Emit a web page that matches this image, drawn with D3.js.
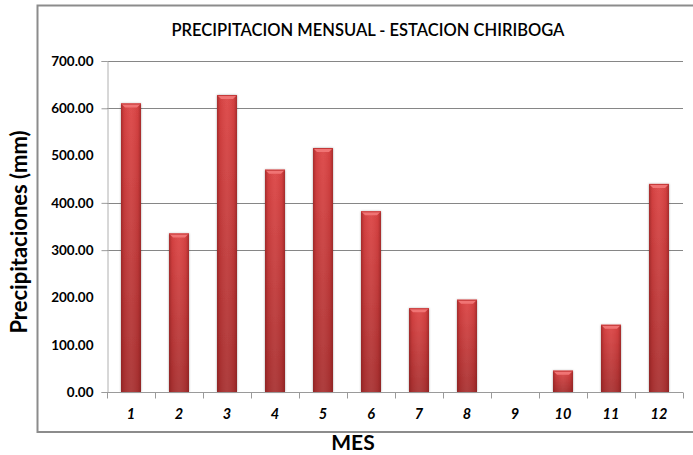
<!DOCTYPE html>
<html>
<head>
<meta charset="utf-8">
<script src="https://cdn.jsdelivr.net/npm/d3@7"></script>
<style>
  html, body { margin: 0; padding: 0; background: #fff; }
  svg { display: block; font-family: Lato, "Open Sans", sans-serif; }
</style>
</head>
<body>
<div id="chart"></div>
<script>
// Monthly precipitation, Chiriboga station
const months = ["1", "2", "3", "4", "5", "6", "7", "8", "9", "10", "11", "12"];
const precipitation = [610, 335, 628, 470, 516, 382, 177, 195, 0, 45, 142, 440];
const yTicks = [0, 100, 200, 300, 400, 500, 600, 700];
const gridValues = [300, 400, 600, 700];
const chartTitle = "PRECIPITACION MENSUAL - ESTACION CHIRIBOGA";
const yTitle = "Precipitaciones (mm)";
const xTitle = "MES";

const W = 693, H = 455;
const plot = { left: 107, right: 683, top: 61, bottom: 392 };

const svg = d3.select("#chart").append("svg")
  .attr("width", W).attr("height", H);

const defs = svg.append("defs");

// vertical body shading of each bar
const gBody = defs.append("linearGradient").attr("id", "barBody")
  .attr("x1", 0).attr("y1", 0).attr("x2", 0).attr("y2", 1);
gBody.append("stop").attr("offset", "0%").attr("stop-color", "#dc4444");
gBody.append("stop").attr("offset", "100%").attr("stop-color", "#a83030");

// darkened side edges for a rounded look
const gSide = defs.append("linearGradient").attr("id", "barSide")
  .attr("x1", 0).attr("y1", 0).attr("x2", 1).attr("y2", 0);
gSide.append("stop").attr("offset", "0%").attr("stop-color", "#7a1a1a").attr("stop-opacity", 0.55);
gSide.append("stop").attr("offset", "15%").attr("stop-color", "#7a1a1a").attr("stop-opacity", 0.1);
gSide.append("stop").attr("offset", "50%").attr("stop-color", "#ffffff").attr("stop-opacity", 0.06);
gSide.append("stop").attr("offset", "85%").attr("stop-color", "#7a1a1a").attr("stop-opacity", 0.1);
gSide.append("stop").attr("offset", "100%").attr("stop-color", "#7a1a1a").attr("stop-opacity", 0.55);

const shadow = defs.append("filter").attr("id", "barShadow")
  .attr("x", "-30%").attr("y", "-10%").attr("width", "160%").attr("height", "120%");
shadow.append("feGaussianBlur").attr("in", "SourceAlpha").attr("stdDeviation", 1.2).attr("result", "b");
shadow.append("feFlood").attr("flood-color", "#000").attr("flood-opacity", 0.35).attr("result", "c");
shadow.append("feComposite").attr("in", "c").attr("in2", "b").attr("operator", "in").attr("result", "s");
const merge = shadow.append("feMerge");
merge.append("feMergeNode").attr("in", "s");
merge.append("feMergeNode").attr("in", "SourceGraphic");

// outer chart frame (left, top, bottom edges)
svg.append("path")
  .attr("d", `M${W},5.5 H37.5 V432 H${W}`)
  .attr("fill", "none").attr("stroke", "#8c8c8c").attr("stroke-width", 2);

const x = d3.scaleBand().domain(months).range([plot.left, plot.right]).paddingInner(0).paddingOuter(0);
const y = d3.scaleLinear().domain([0, 700]).range([plot.bottom, plot.top]);

// horizontal gridlines
svg.append("g").selectAll("line").data(gridValues).join("line")
  .attr("x1", plot.left).attr("x2", plot.right)
  .attr("y1", d => Math.round(y(d)) + 0.5).attr("y2", d => Math.round(y(d)) + 0.5)
  .attr("stroke", "#868686").attr("stroke-width", 1);

// y axis
const yAxis = svg.append("g").attr("transform", `translate(${plot.left + 0.5},0)`)
  .call(d3.axisLeft(y).tickValues(yTicks).tickSize(6).tickPadding(8).tickFormat(d3.format(".2f")));
yAxis.select(".domain").attr("stroke", "#b0b0b0");
yAxis.selectAll(".tick line").attr("stroke", "#9a9a9a")
  .attr("display", d => (gridValues.includes(d) || d === 0) ? null : "none");
yAxis.selectAll(".tick text")
  .attr("font-family", "Lato, sans-serif").attr("font-size", 13.5).attr("font-weight", "bold").attr("fill", "#000");

// bars
const barW = 20;
const bars = svg.append("g").selectAll("g").data(months.map((m, i) => ({ m, v: precipitation[i] })))
  .join("g").filter(d => d.v > 0);
bars.append("rect")
  .attr("x", d => x(d.m) + x.bandwidth() / 2 - barW / 2)
  .attr("y", d => y(d.v)).attr("width", barW).attr("height", d => y(0) - y(d.v))
  .attr("fill", "url(#barBody)").attr("filter", "url(#barShadow)");
bars.append("rect")
  .attr("x", d => x(d.m) + x.bandwidth() / 2 - barW / 2)
  .attr("y", d => y(d.v)).attr("width", barW).attr("height", d => y(0) - y(d.v))
  .attr("fill", "url(#barSide)");
// bevelled top cap
bars.append("path")
  .attr("d", d => {
    const cx = x(d.m) + x.bandwidth() / 2, t = y(d.v);
    return `M${cx - barW / 2},${t} H${cx + barW / 2} L${cx + barW / 2 - 4},${t + 4} H${cx - barW / 2 + 4} Z`;
  })
  .attr("fill", "#f07474");
bars.append("line")
  .attr("x1", d => x(d.m) + x.bandwidth() / 2 - barW / 2).attr("x2", d => x(d.m) + x.bandwidth() / 2 + barW / 2)
  .attr("y1", d => y(d.v) + 0.5).attr("y2", d => y(d.v) + 0.5)
  .attr("stroke", "#c43838").attr("stroke-width", 1);

// x axis with ticks at category boundaries
const xg = svg.append("g").attr("transform", `translate(0,${plot.bottom + 0.5})`);
xg.append("line").attr("x1", plot.left).attr("x2", plot.right)
  .attr("stroke", "#9a9a9a");
xg.selectAll("line.b").data(d3.range(months.length + 1)).join("line").attr("class", "b")
  .attr("x1", i => Math.round(plot.left + i * x.bandwidth()) + 0.5)
  .attr("x2", i => Math.round(plot.left + i * x.bandwidth()) + 0.5)
  .attr("y1", 0).attr("y2", 6).attr("stroke", "#9a9a9a");
xg.selectAll("text").data(months).join("text")
  .attr("x", d => x(d) + x.bandwidth() / 2).attr("y", 26)
  .attr("text-anchor", "middle")
  .attr("font-size", 14.5).attr("font-weight", "bold").attr("font-style", "italic").attr("fill", "#000")
  .text(d => d);

// titles
svg.append("text").attr("x", 368).attr("y", 36).attr("text-anchor", "middle")
  .attr("font-size", 16.5).attr("font-weight", "600").attr("fill", "#000").text(chartTitle);
svg.append("text").attr("transform", "translate(27,232) rotate(-90)").attr("text-anchor", "middle")
  .attr("font-size", 22).attr("font-weight", "bold").attr("fill", "#000").text(yTitle);
svg.append("text").attr("x", 353).attr("y", 450).attr("text-anchor", "middle")
  .attr("font-size", 21).attr("font-weight", "bold").attr("fill", "#000").text(xTitle);
</script>
</body>
</html>
